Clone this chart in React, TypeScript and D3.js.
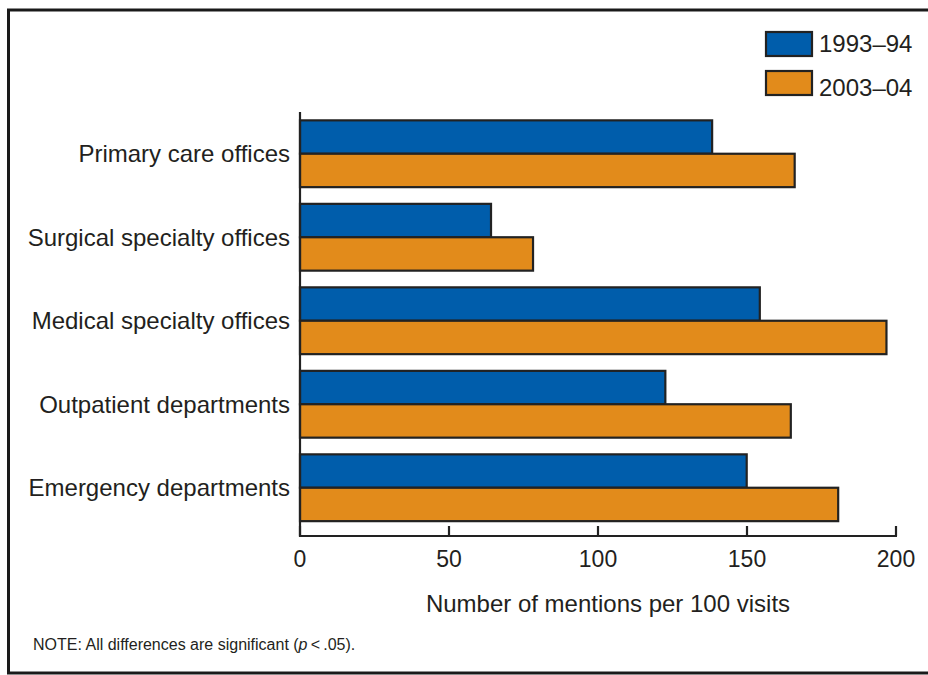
import { useMemo } from "react";
import { scaleBand, scaleLinear } from "d3";

const categories = [
  "Primary care offices",
  "Surgical specialty offices",
  "Medical specialty offices",
  "Outpatient departments",
  "Emergency departments",
];
const series = ["1993–94", "2003–04"];
const values1993 = [138.3, 64.1, 154.3, 122.6, 149.9];
const values2003 = [166.0, 78.2, 196.8, 164.7, 180.6];
const xTicks = [0, 50, 100, 150, 200];

const COLORS = ["#005dab", "#e28b1b"];
const FONT = "'Liberation Sans', Arial, Helvetica, sans-serif";

export default function App() {
  const width = 928;
  const height = 675;

  const x = useMemo(() => scaleLinear().domain([0, 200]).range([300, 896]), []);
  const y = useMemo(
    () =>
      scaleBand<string>()
        .domain(categories)
        .range([112, 529.5])
        .paddingInner(0.2)
        .paddingOuter(0.1),
    []
  );
  const inner = useMemo(
    () => scaleBand<string>().domain(series).range([0, y.bandwidth()]),
    [y]
  );

  const rows = categories.map((c, i) => ({
    name: c,
    vals: [values1993[i], values2003[i]],
  }));

  return (
    <svg
      width={width}
      height={height}
      style={{ position: "absolute", left: 0, top: 0, background: "#fff" }}
      fontFamily={FONT}
    >
      {/* frame */}
      <rect x={8.5} y={10} width={940} height={663} fill="none" stroke="#1a1a1a" strokeWidth={3} />

      {/* bars */}
      {rows.map((r) => (
        <g key={r.name}>
          {series.map((s, j) => (
            <rect
              key={s}
              x={x(0)}
              y={(y(r.name) ?? 0) + (inner(s) ?? 0)}
              width={x(r.vals[j]) - x(0)}
              height={inner.bandwidth()}
              fill={COLORS[j]}
              stroke="#222"
              strokeWidth={2.2}
            />
          ))}
          <text
            x={290}
            y={(y(r.name) ?? 0) + y.bandwidth() / 2}
            dy="0.35em"
            textAnchor="end"
            fontSize={24}
            fill="#231f20"
          >
            {r.name}
          </text>
        </g>
      ))}

      {/* y axis line */}
      <line x1={x(0)} x2={x(0)} y1={112} y2={537} stroke="#222" strokeWidth={2.2} />

      {/* x axis */}
      <line x1={x(0) - 1} x2={x(200) + 1} y1={536} y2={536} stroke="#222" strokeWidth={2.2} />
      {xTicks.map((t) => (
        <g key={t}>
          <line x1={x(t)} x2={x(t)} y1={536} y2={526} stroke="#222" strokeWidth={2.2} />
          <text x={x(t)} y={567} textAnchor="middle" fontSize={23} fill="#231f20">
            {t}
          </text>
        </g>
      ))}
      <text x={608} y={612} textAnchor="middle" fontSize={24} fill="#231f20">
        Number of mentions per 100 visits
      </text>

      {/* legend */}
      {series.map((s, j) => (
        <g key={s} transform={`translate(766, ${32 + j * 39})`}>
          <rect x={0} y={0} width={46} height={24} fill={COLORS[j]} stroke="#222" strokeWidth={2.2} />
          <text x={53} y={12 + j * 5} dy="0.35em" fontSize={24} fill="#231f20">
            {s}
          </text>
        </g>
      ))}

      {/* note */}
      <text x={33} y={650} fontSize={16} fill="#231f20">
        NOTE: All differences are significant (<tspan fontStyle="italic">p</tspan>{"\u2009<\u2009.05)."}
      </text>
    </svg>
  );
}
